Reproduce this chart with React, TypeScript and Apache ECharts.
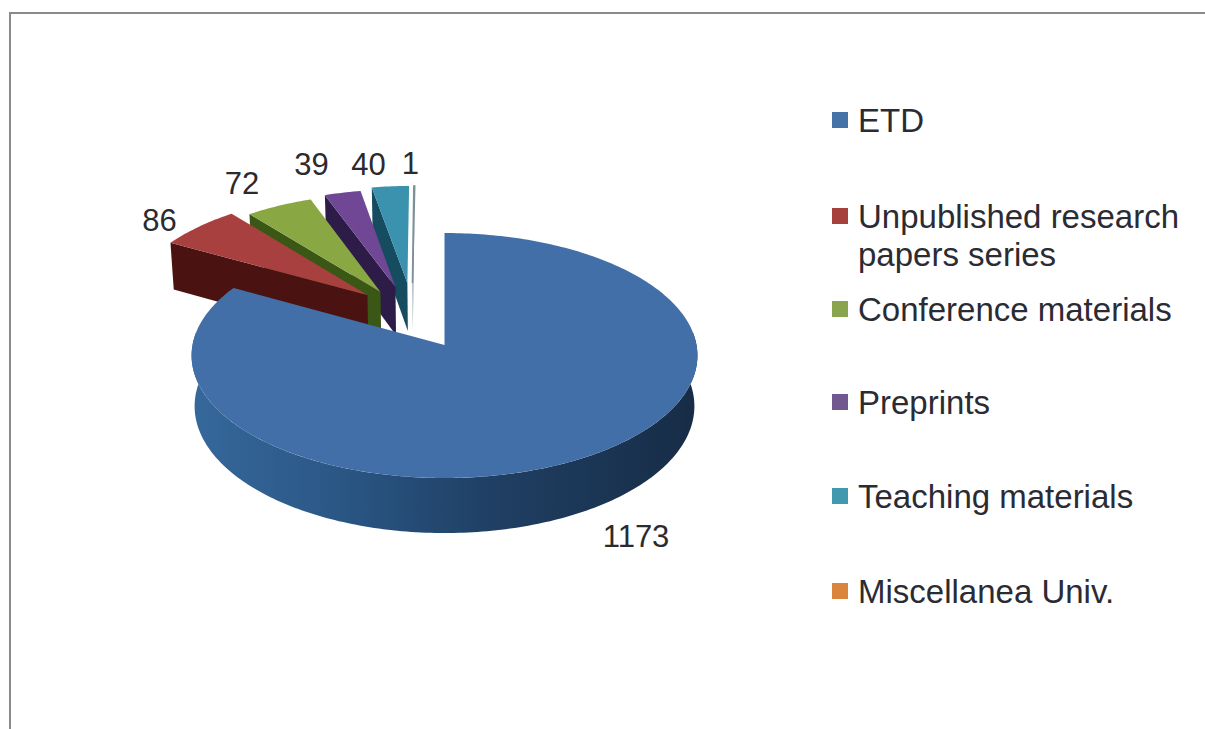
import React, { useEffect, useRef } from "react";
import * as echarts from "echarts";

const categories = ["ETD", "Unpublished research papers series", "Conference materials", "Preprints", "Teaching materials", "Miscellanea Univ."];
const values = [1173, 86, 72, 39, 40, 1];

// styling and layout, kept apart from the data
const topColors = ["#436fa8", "#a8403f", "#89a742", "#6f4795", "#3a92ae", "#d9853d"];
const wallColors = ["#264d78", "#4a1311", "#3b5716", "#2c1c47", "#154c60", "#7d8f98"];
const legendColors = ["#4572a7", "#a5403d", "#89a54e", "#71588f", "#4198af", "#db843d"];
const explodeU = [0, -0.317, -0.264, -0.203, -0.154, -0.133];
const explodeV = [0, 0.426, 0.453, 0.497, 0.533, 0.533];
const radiusScale = [1, 0.98, 0.94, 0.94, 0.94, 0.94];
const labelNudgeX = [54, -39, -37, -31, -22, -4];
const labelNudgeY = [24, -6, -22, -28, -22, -22];
const legendTops = [101, 159, 290, 383, 477, 572];
const drawOrder = [10, 9, 8, 7, 6, 5];

const CX = 444.5;
const CY = 345;
const RX = 252;
const RY = 121.6;
const K = 0.0857;
const DEPTH = 50.3;
const FONT = "Liberation Sans, Arial, sans-serif";

const total = values.reduce((a, b) => a + b, 0);
const startAngles: number[] = [];
values.reduce((acc, v, i) => {
  startAngles[i] = (acc / total) * 360;
  return acc + v;
}, 0);

const project = (u: number, v: number, drop = 0): [number, number] => {
  const d = 1 + K * v;
  return [CX + (RX * (1 - 0.012 * drop) * u) / d, CY - (RY * v) / d + (drop * DEPTH) / d];
};

const rimPoint = (i: number, deg: number, drop = 0): [number, number] => {
  const a = (deg * Math.PI) / 180;
  const r = radiusScale[i];
  return project(explodeU[i] + r * Math.sin(a), explodeV[i] + r * Math.cos(a), drop);
};

const sampleArc = (i: number, from: number, to: number, drop = 0) => {
  const pts: [number, number][] = [];
  const steps = Math.max(2, Math.ceil(Math.abs(to - from)));
  for (let s = 0; s <= steps; s++) pts.push(rimPoint(i, from + ((to - from) * s) / steps, drop));
  return pts;
};

const buildItem = (i: number) => (_params: any, api: any) => {
  const value = api.value(0);
  const sweep = (value / total) * 360;
  const start = startAngles[i];
  const end = start + sweep;
  const apex = project(explodeU[i], explodeV[i]);
  const apexLow = project(explodeU[i], explodeV[i], 1);
  const children: any[] = [];

  if (i === 0) {
    const top = sampleArc(i, 84, 276);
    const low = sampleArc(i, 84, 276, 1).reverse();
    children.push({
      type: "polygon",
      shape: { points: [...top, ...low] },
      style: {
        fill: new echarts.graphic.LinearGradient(0, 0, 1, 0, [
          { offset: 0, color: "#36689c" },
          { offset: 0.3, color: "#2a5684" },
          { offset: 0.6, color: "#1f3f63" },
          { offset: 1, color: "#172c46" },
        ]),
      },
    });
  } else {
    const wallTop = rimPoint(i, start);
    const wallLow = rimPoint(i, start, 1);
    children.push({
      type: "polygon",
      shape: { points: [apex, wallTop, wallLow, apexLow] },
      style: { fill: wallColors[i] },
    });
  }

  const isSliver = sweep < 1;
  children.push({
    type: "polygon",
    shape: { points: [apex, ...sampleArc(i, start, end)] },
    style: {
      fill: topColors[i],
      stroke: isSliver ? wallColors[i] : undefined,
      lineWidth: isSliver ? 1.5 : 0,
    },
  });

  const mid = (start + end) / 2;
  const anchor = rimPoint(i, mid);
  children.push({
    type: "text",
    style: {
      text: String(value),
      x: anchor[0] + labelNudgeX[i],
      y: anchor[1] + (i === 0 ? DEPTH * 1.08 : 0) + labelNudgeY[i],
      fill: "#2b2b2f",
      font: `31px ${FONT}`,
      align: "center",
      verticalAlign: "middle",
    },
  });
  return { type: "group", children };
};

export default function App() {
  const ref = useRef<HTMLDivElement>(null);
  useEffect(() => {
    const chart = echarts.init(ref.current!, undefined, { renderer: "svg" });
    chart.setOption({
      animation: false,
      backgroundColor: "#ffffff",
      legend: categories.map((name, i) => ({
        data: [name],
        left: 832,
        top: legendTops[i],
        orient: "vertical",
        icon: "rect",
        itemWidth: 16,
        itemHeight: 16,
        selectedMode: false,
        padding: 0,
        // a leading blank line keeps the marker level with the first line of the wrapped name
        formatter: (n: string) => n.replace(/^(.*research) (papers.*)$/, "\n$1\n$2"),
        textStyle: {
          fontFamily: FONT,
          fontSize: 33,
          lineHeight: 38,
          color: "#2b2b33",
          padding: [0, 0, 0, 5],
        },
      })),
      graphic: [
        { type: "line", shape: { x1: 9, y1: 13, x2: 1205, y2: 13 }, style: { stroke: "#8a8a8a", lineWidth: 2 } },
        { type: "line", shape: { x1: 10, y1: 13, x2: 10, y2: 729 }, style: { stroke: "#8a8a8a", lineWidth: 2 } },
      ],
      series: categories.map((name, i) => ({
        type: "custom",
        name,
        coordinateSystem: "none",
        z: drawOrder[i],
        itemStyle: { color: legendColors[i] },
        data: [[values[i]]],
        encode: { value: 0 },
        renderItem: buildItem(i),
      })),
    });
    return () => chart.dispose();
  }, []);
  return <div ref={ref} style={{ position: "absolute", left: 0, top: 0, width: 1205, height: 729 }} />;
}
